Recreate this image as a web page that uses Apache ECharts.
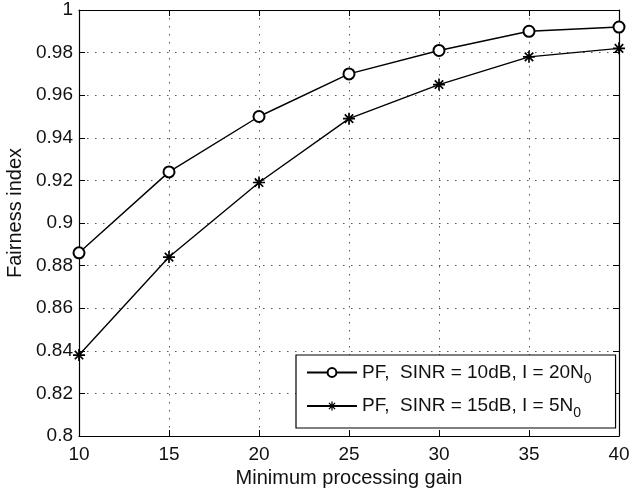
<!DOCTYPE html>
<html><head><meta charset="utf-8">
<script src="https://cdn.jsdelivr.net/npm/echarts@6/dist/echarts.min.js"></script>
<style>html,body{margin:0;padding:0;background:#fff}#c{width:630px;height:488px}</style>
</head><body><div id="c"></div>
<script>
var gains = [10, 15, 20, 25, 30, 35, 40];
var pf10dB = [0.886, 0.924, 0.950, 0.970, 0.981, 0.990, 0.992];
var pf15dB = [0.838, 0.884, 0.919, 0.949, 0.965, 0.978, 0.982];
var seriesNames = ['PF,  SINR = 10dB, I = 20N{s|0}', 'PF,  SINR = 15dB, I = 5N{s|0}'];

var star = 'path://M8.6,0L11.4,0L11.4,20L8.6,20Z M0,8.6L20,8.6L20,11.4L0,11.4Z M2.0,4.0L4.0,2.0L18.0,16.0L16.0,18.0Z M16.0,2.0L18.0,4.0L4.0,18.0L2.0,16.0Z';
var font = 'Liberation Sans';
var chart = echarts.init(document.getElementById('c'));
function pairs(ys){ return gains.map(function(g,i){return [g, ys[i]];}); }
var gridStyle = {show:true, lineStyle:{color:'#555', type:[1.5,6.5], width:1}};
chart.setOption({
  animation:false,
  backgroundColor:'#fff',
  textStyle:{fontFamily:font},
  grid:{left:79, top:10, right:11, bottom:52, containLabel:false, outerBoundsMode:'none'},
  xAxis:[{type:'value', min:10, max:40, interval:5, position:'bottom',
    name:'Minimum processing gain', nameLocation:'middle', nameGap:30,
    nameTextStyle:{fontSize:20, color:'#111', fontFamily:font},
    axisLine:{lineStyle:{color:'#000', width:1.2}},
    axisTick:{inside:true, length:6, lineStyle:{color:'#000'}},
    axisLabel:{fontSize:19, color:'#111', margin:9, fontFamily:font},
    splitLine:gridStyle},
   {type:'value', min:10, max:40, interval:5, position:'top',
    axisLine:{show:true, lineStyle:{color:'#000', width:1.2}},
    axisTick:{inside:true, length:6, lineStyle:{color:'#000'}},
    axisLabel:{show:false}, splitLine:{show:false}}],
  yAxis:[{type:'value', min:0.8, max:1, interval:0.02, position:'left',
    name:'Fairness index', nameLocation:'middle', nameGap:54,
    nameTextStyle:{fontSize:20, color:'#111', fontFamily:font, padding:[0,0,0,20]},
    axisLine:{show:true, lineStyle:{color:'#000', width:1.2}},
    axisTick:{show:true, inside:true, length:6, lineStyle:{color:'#000'}},
    axisLabel:{fontSize:19, color:'#111', margin:6, fontFamily:font,
      formatter:function(v){return String(parseFloat(v.toFixed(2)));}},
    splitLine:gridStyle},
   {type:'value', min:0.8, max:1, interval:0.02, position:'right',
    axisLine:{show:true, lineStyle:{color:'#000', width:1.2}},
    axisTick:{show:true, inside:true, length:6, lineStyle:{color:'#000'}},
    axisLabel:{show:false}, splitLine:{show:false}}],
  legend:{show:true, orient:'vertical', left:296, top:355,
    itemWidth:50, itemHeight:11, itemGap:10,
    padding:[8,24,8,10], backgroundColor:'#fff', borderColor:'#000', borderWidth:1.2,
    textStyle:{fontSize:19, color:'#111', fontFamily:font,
      rich:{s:{fontSize:14, padding:[14,0,0,0], fontFamily:font, color:'#111'}}},
    data:seriesNames},
  series:[
    {name:seriesNames[0], type:'line', data:pairs(pf10dB), xAxisIndex:0, yAxisIndex:0,
      symbol:'emptyCircle', symbolSize:11, color:'#000',
      lineStyle:{color:'#000', width:1.4},
      itemStyle:{color:'#000', borderColor:'#000', borderWidth:1.3}},
    {name:seriesNames[1], type:'line', data:pairs(pf15dB), xAxisIndex:0, yAxisIndex:0,
      symbol:star, symbolSize:12, color:'#000',
      lineStyle:{color:'#000', width:1.4},
      itemStyle:{color:'#000'}}
  ]
});
</script></body></html>
